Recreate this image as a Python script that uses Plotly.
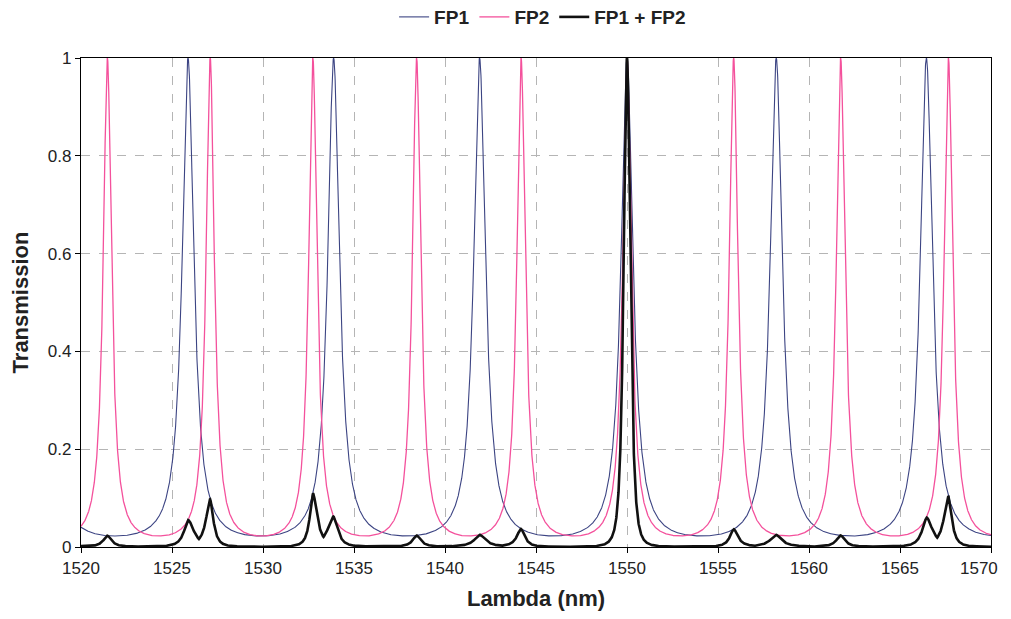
import numpy as np
import plotly.graph_objects as go

# Peak wavelengths (nm)
fp1_peaks_nm = [1525.88, 1533.88, 1541.9, 1550.0, 1558.2, 1566.45]
fp2_peaks_nm = [1521.45, 1527.1, 1532.74, 1538.44, 1544.18, 1550.0, 1555.86, 1561.74, 1567.66]
# Minimum (off-resonance) transmission
fp1_min = 0.0225
fp2_min = 0.0225

x_ticks = [1520, 1525, 1530, 1535, 1540, 1545, 1550, 1555, 1560, 1565, 1570]
y_ticks = [0, 0.2, 0.4, 0.6, 0.8, 1]

lam = np.linspace(1520, 1570, 8001)


def order(lam, peaks):
    p = np.asarray(peaks, dtype=float)
    idx = np.arange(len(p), dtype=float)
    q = np.interp(lam, p, idx)
    lo = lam < p[0]
    hi = lam > p[-1]
    q[lo] = (lam[lo] - p[0]) / (p[1] - p[0])
    q[hi] = idx[-1] + (lam[hi] - p[-1]) / (p[-1] - p[-2])
    return q


def airy(q, tmin):
    F = 1.0 / tmin - 1.0
    return 1.0 / (1.0 + F * np.sin(np.pi * q) ** 2)


q1 = order(lam, fp1_peaks_nm)
q2 = order(lam, fp2_peaks_nm)
t1 = airy(q1, fp1_min)
t2 = airy(q2, fp2_min)

# transmission of the other filter at each resonance
p1 = np.array(fp1_peaks_nm)
p2 = np.array(fp2_peaks_nm)
c1 = airy(order(p1, fp2_peaks_nm), fp2_min)  # FP2 level at FP1 peaks
c2 = airy(order(p2, fp1_peaks_nm), fp1_min)  # FP1 level at FP2 peaks
i1 = np.clip(np.round(q1).astype(int), 0, len(p1) - 1)
i2 = np.clip(np.round(q2).astype(int), 0, len(p2) - 1)
resonant = np.maximum(t1 * c1[i1], t2 * c2[i2])
t12 = np.minimum(t1 * t2, resonant)

FONT = "Liberation Sans, Arial, sans-serif"
TICKFONT = dict(family=FONT, size=17, color="#222")

fig = go.Figure()
fig.add_trace(go.Scatter(x=lam, y=t1, mode="lines", name="<b>FP1</b>",
                         line=dict(color="#3c4483", width=1.1)))
fig.add_trace(go.Scatter(x=lam, y=t2, mode="lines", name="<b>FP2</b>",
                         line=dict(color="#f4519c", width=1.3)))
fig.add_trace(go.Scatter(x=lam, y=t12, mode="lines", name="<b>FP1 + FP2</b>",
                         line=dict(color="#111111", width=2.6)))

axis_common = dict(
    showline=True, linecolor="black", linewidth=1.2, mirror=True,
    ticks="outside", ticklen=5, tickcolor="black",
    showgrid=True, gridcolor="#b5b5b5", griddash="dash", gridwidth=1,
    zeroline=False, ticklabeloverflow="allow",
    tickfont=TICKFONT,
)

# last x tick label drawn as an annotation so it stays inside the window
x_ticktext = [str(v) for v in x_ticks[:-1]] + [""]

fig.update_layout(
    width=1003, height=603,
    margin=dict(l=73, r=20, t=50, b=64, autoexpand=False),
    paper_bgcolor="white", plot_bgcolor="white",
    showlegend=True,
    legend=dict(orientation="h", xref="container", x=0.533, xanchor="center",
                yref="container", y=0.985, yanchor="middle",
                font=dict(family=FONT, size=19, color="#222"),
                itemwidth=30, traceorder="normal", tracegroupgap=0),
    xaxis=dict(range=[1520, 1570], tickvals=x_ticks, ticktext=x_ticktext,
               automargin=True,
               title=dict(text="<b>Lambda (nm)</b>", standoff=20,
                          font=dict(family=FONT, size=22, color="#222")),
               **axis_common),
    yaxis=dict(range=[0, 1], tickvals=y_ticks, ticktext=["0", "0.2", "0.4", "0.6", "0.8", "1"],
               automargin=False,
               title=dict(text="<b>Transmission</b>", standoff=16,
                          font=dict(family=FONT, size=22, color="#222")),
               **axis_common),
    annotations=[dict(x=x_ticks[-1], y=0, xref="x", yref="paper", text=str(x_ticks[-1]),
                      showarrow=False, xanchor="right", yanchor="top",
                      xshift=9, yshift=-10, font=TICKFONT)],
)

fig.write_html("out.html")
